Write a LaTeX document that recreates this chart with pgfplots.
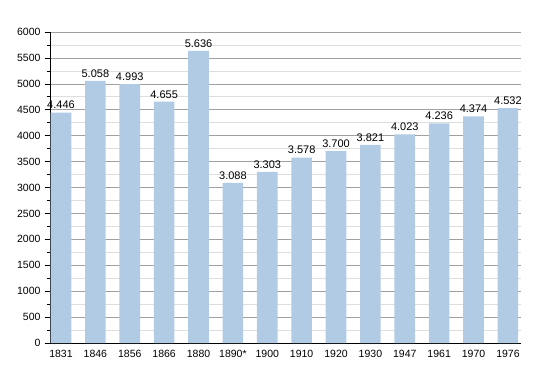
\documentclass[border=0pt]{standalone}
\usepackage{pgfplots}
\pgfplotsset{compat=1.18}
\usepackage{fontspec}
\setmainfont{Liberation Sans}
\definecolor{barblue}{RGB}{178,203,229}
\definecolor{majgrid}{RGB}{160,160,160}
\definecolor{mingrid}{RGB}{222,222,222}
\begin{document}
\begin{tikzpicture}[x=1pt,y=1pt]
\path[use as bounding box] (-50,-30) rectangle (500,343);
\begin{axis}[
  at={(0,0)}, anchor=south west,
  scale only axis, width=471pt, height=311pt,
  xmin=-0.32, xmax=13.38, ymin=0, ymax=6000,
  ytick distance=500, minor y tick num=1,
  xtick={0,...,13},
  xticklabels={1831,1846,1856,1866,1880,1890*,1900,1910,1920,1930,1947,1961,1970,1976},
  major x tick style={draw=none},
  axis x line*=bottom, axis y line*=left,
  axis line style={black, line width=0.9pt, -},
  ymajorgrids, yminorgrids,
  major grid style={majgrid, line width=0.6pt},
  minor grid style={mingrid, line width=0.6pt},
  tick align=outside,
  major tick length=5pt, minor tick length=3pt,
  ytick style={black, line width=0.6pt},
  tick label style={font=\fontsize{10.5}{11}\selectfont},
  /pgf/number format/assume math mode=true,
  yticklabel style={/pgf/number format/1000 sep={}, xshift=-1pt},
  xticklabel style={yshift=1pt},
  scaled y ticks=false,
  ybar, bar width=0.6,
  nodes near coords={\pgfmathprintnumber[1000 sep={.}]{\pgfplotspointmeta}},
  every node near coord/.style={font=\fontsize{11}{12}\selectfont, black},
]
\addplot[fill=barblue, draw=none] coordinates {
(0,4446) (1,5058) (2,4993) (3,4655) (4,5636) (5,3088) (6,3303)
(7,3578) (8,3700) (9,3821) (10,4023) (11,4236) (12,4374) (13,4532)};
\end{axis}
\end{tikzpicture}
\end{document}
